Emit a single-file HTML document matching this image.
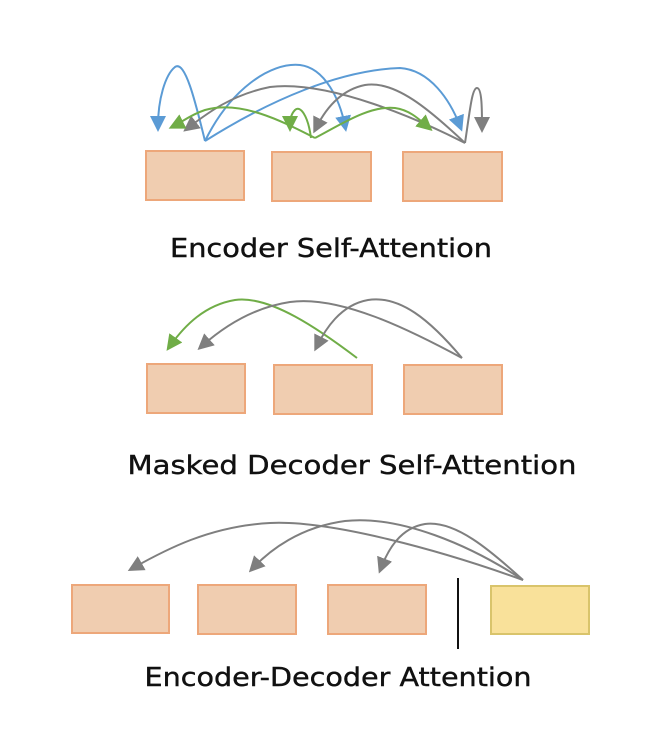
<!DOCTYPE html>
<html><head><style>
html,body{margin:0;padding:0;background:#fff;}
svg{display:block}
</style></head><body>
<svg width="650" height="734" viewBox="0 0 650 734" xmlns="http://www.w3.org/2000/svg">
<defs>
<marker id="b" markerWidth="8" markerHeight="8" refX="5" refY="4" orient="auto" markerUnits="strokeWidth"><path d="M0,0 L8,4 L0,8 z" fill="#5b9bd5"/></marker>
<marker id="g" markerWidth="8" markerHeight="8" refX="5" refY="4" orient="auto" markerUnits="strokeWidth"><path d="M0,0 L8,4 L0,8 z" fill="#70ad47"/></marker>
<marker id="k" markerWidth="8" markerHeight="8" refX="5" refY="4" orient="auto" markerUnits="strokeWidth"><path d="M0,0 L8,4 L0,8 z" fill="#7f7f7f"/></marker>
</defs>
<g fill="#f0cdb0" stroke="#eda77a" stroke-width="2">
<rect x="146" y="151" width="98" height="49"/>
<rect x="272" y="152" width="99" height="49"/>
<rect x="403" y="152" width="99" height="49"/>
<rect x="147" y="364" width="98" height="49"/>
<rect x="274" y="365" width="98" height="49"/>
<rect x="404" y="365" width="98" height="49"/>
<rect x="72" y="585" width="97" height="48"/>
<rect x="198" y="585" width="98" height="49"/>
<rect x="328" y="585" width="98" height="49"/>
</g>
<rect x="491" y="586" width="98" height="48" fill="#f9e19a" stroke="#d9c46b" stroke-width="2"/>
<line x1="458" y1="578" x2="458" y2="649" stroke="#111" stroke-width="2"/>
<g fill="none" stroke-width="2">
<path d="M205,141 C195,100 185,60 175,67 C165,75 158,100 158,126" stroke="#5b9bd5" marker-end="url(#b)"/>
<path d="M205,141 C230,90 270,62 300,65 C325,68 340,100 345,126" stroke="#5b9bd5" marker-end="url(#b)"/>
<path d="M205,141 C270,100 340,70 400,68 C430,70 450,100 460,126" stroke="#5b9bd5" marker-end="url(#b)"/>
<path d="M465,143 C420,120 330,80 270,87 C230,95 205,115 188,128" stroke="#7f7f7f" marker-end="url(#k)"/>
<path d="M465,143 C430,110 395,80 365,85 C340,90 325,110 316,128" stroke="#7f7f7f" marker-end="url(#k)"/>
<path d="M465,143 C470,110 472,88 477,88 C482,88 482,110 482,127" stroke="#7f7f7f" marker-end="url(#k)"/>
<path d="M315,138 C280,120 240,100 205,110 C190,115 182,122 174,126" stroke="#70ad47" marker-end="url(#g)"/>
<path d="M311,138 C308,115 300,105 295,110 C290,115 290,122 290,126" stroke="#70ad47" marker-end="url(#g)"/>
<path d="M315,138 C340,125 370,105 395,108 C410,110 420,120 428,127" stroke="#70ad47" marker-end="url(#g)"/>
<path d="M357,358 C320,330 270,295 235,300 C205,305 185,325 170,346" stroke="#70ad47" marker-end="url(#g)"/>
<path d="M462,358 C410,330 340,295 290,302 C250,308 220,330 202,346" stroke="#7f7f7f" marker-end="url(#k)"/>
<path d="M462,358 C430,320 400,295 368,300 C340,305 325,330 317,346" stroke="#7f7f7f" marker-end="url(#k)"/>
<path d="M523,580 C440,550 330,520 270,523 C210,526 165,550 133,568" stroke="#7f7f7f" marker-end="url(#k)"/>
<path d="M523,580 C470,545 400,515 345,521 C300,527 270,550 253,568" stroke="#7f7f7f" marker-end="url(#k)"/>
<path d="M523,580 C490,550 455,520 425,524 C400,528 388,550 381,568" stroke="#7f7f7f" marker-end="url(#k)"/>
</g>
<g font-family="'DejaVu Sans', sans-serif" font-size="26" fill="#111" stroke="#111" stroke-width="0.4" text-anchor="middle" lengthAdjust="spacingAndGlyphs">
<text x="331" y="257" textLength="322" lengthAdjust="spacingAndGlyphs">Encoder Self-Attention</text>
<text x="352" y="474" textLength="449" lengthAdjust="spacingAndGlyphs">Masked Decoder Self-Attention</text>
<text x="338" y="686" textLength="387" lengthAdjust="spacingAndGlyphs">Encoder-Decoder Attention</text>
</g>
</svg>
</body></html>
